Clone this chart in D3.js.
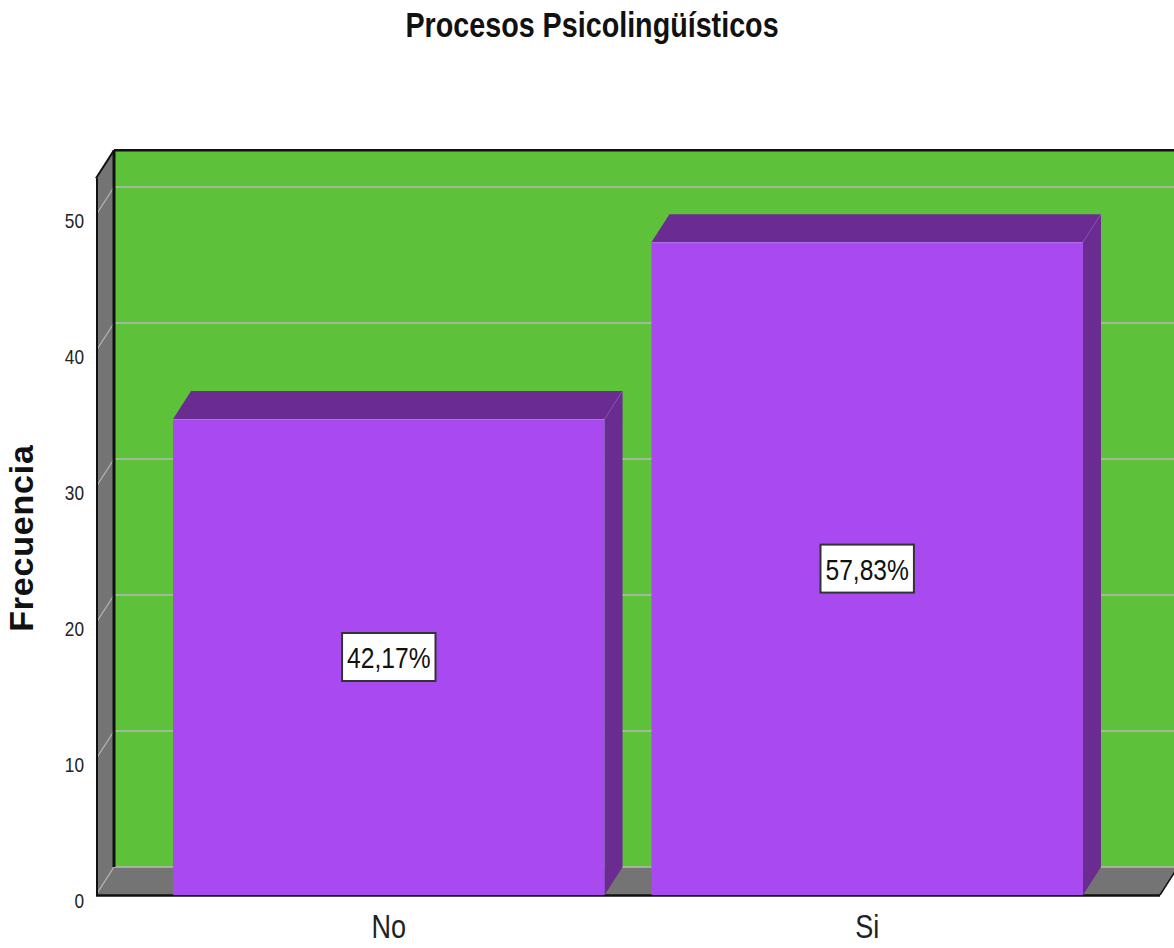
<!DOCTYPE html>
<html><head><meta charset="utf-8">
<script src="https://cdn.jsdelivr.net/npm/d3@7"></script>
<style>body{margin:0;background:#fff}svg{display:block}</style>
</head><body>
<svg id="c" width="1174" height="948"></svg>
<script>
const categories = ["No", "Si"];
const values = [35, 48];
const yTicks = [0, 10, 20, 30, 40, 50];
const title = "Procesos Psicolingüísticos";
const yTitle = "Frecuencia";

const W = 1174, H = 948;
const svg = d3.select("#c");
const font = "'Liberation Sans',Arial,sans-serif";
const SX = 0.82; // horizontal compression to mimic a narrow face

function ntext(parent, tx, ty, size, str, opts = {}) {
  return parent.append("text")
    .attr("transform", `translate(${tx},${ty}) scale(${SX},1)`)
    .attr("text-anchor", opts.anchor || "middle")
    .attr("font-family", font)
    .attr("font-weight", opts.weight || "normal")
    .attr("font-size", size)
    .attr("fill", opts.fill || "#222")
    .text(str);
}

const DX = 18, DY = -28;
const x0 = 96, x1 = 1160;
const y = d3.scaleLinear().domain([0, 50]).range([895, 215]);
const yTop = 52.7;
const x = d3.scaleBand().domain(categories).range([x0, x1]).paddingInner(0.098).paddingOuter(0.161);

const green = "#5dc23a", gray = "#747474", purple = "#a84af0", dpurple = "#6a2c91", grid = "#b8b8b8";
const total = d3.sum(values);

// back wall
svg.append("rect").attr("x", x0 + DX).attr("y", y(yTop) + DY)
  .attr("width", W - (x0 + DX) + 10).attr("height", y(0) - y(yTop)).attr("fill", green);
// left wall
svg.append("path").attr("d", `M${x0},${y(yTop)} L${x0+DX},${y(yTop)+DY} L${x0+DX},${y(0)+DY} L${x0},${y(0)} Z`).attr("fill", gray);
// floor
svg.append("path").attr("d", `M${x0},${y(0)} L${x0+DX},${y(0)+DY} L${x1+DX},${y(0)+DY} L${x1},${y(0)} Z`).attr("fill", gray);

// gridlines
yTicks.forEach(t => {
  svg.append("line").attr("x1", x0 + DX).attr("x2", W).attr("y1", y(t) + DY).attr("y2", y(t) + DY)
    .attr("stroke", grid).attr("stroke-width", 1.5);
  svg.append("line").attr("x1", x0).attr("x2", x0 + DX).attr("y1", y(t)).attr("y2", y(t) + DY)
    .attr("stroke", grid).attr("stroke-width", 1.2);
});

// wall edges
svg.append("line").attr("x1", x0 + DX).attr("x2", W).attr("y1", y(yTop) + DY).attr("y2", y(yTop) + DY)
  .attr("stroke", "#111").attr("stroke-width", 2.5);
svg.append("line").attr("x1", x0 + DX).attr("x2", x0 + DX).attr("y1", y(yTop) + DY).attr("y2", y(0) + DY)
  .attr("stroke", "#111").attr("stroke-width", 3);
svg.append("line").attr("x1", x0).attr("x2", x0 + DX).attr("y1", y(yTop)).attr("y2", y(yTop) + DY)
  .attr("stroke", "#111").attr("stroke-width", 2);
svg.append("line").attr("x1", x0 + 1).attr("x2", x0 + 1).attr("y1", y(yTop)).attr("y2", y(0))
  .attr("stroke", "#111").attr("stroke-width", 2);
svg.append("line").attr("x1", x0).attr("x2", x1).attr("y1", y(0) + 0.5).attr("y2", y(0) + 0.5)
  .attr("stroke", "#111").attr("stroke-width", 2.5);
svg.append("line").attr("x1", x1).attr("x2", x1 + DX).attr("y1", y(0)).attr("y2", y(0) + DY)
  .attr("stroke", "#111").attr("stroke-width", 1.5);

// bars
const bw = x.bandwidth();
const g = svg.append("g");
categories.forEach((c, i) => {
  const v = values[i], bx = x(c), by = y(v);
  g.append("path").attr("d", `M${bx+bw},${by} L${bx+bw+DX},${by+DY} L${bx+bw+DX},${y(0)+DY} L${bx+bw},${y(0)} Z`).attr("fill", dpurple);
  g.append("path").attr("d", `M${bx},${by} L${bx+DX},${by+DY} L${bx+bw+DX},${by+DY} L${bx+bw},${by} Z`).attr("fill", dpurple);
  g.append("rect").attr("x", bx).attr("y", by).attr("width", bw).attr("height", y(0) - by).attr("fill", purple);
  g.append("line").attr("x1", bx).attr("x2", bx + bw).attr("y1", by + 0.5).attr("y2", by + 0.5).attr("stroke", "#b86cf2").attr("stroke-width", 1);
  g.append("line").attr("x1", bx + bw).attr("x2", bx + bw + DX).attr("y1", by).attr("y2", by + DY).attr("stroke", "#8a4cc0").attr("stroke-width", 1);

  // label box
  const cx = bx + bw / 2, cy = (by + y(0)) / 2;
  const pct = d3.format(".2f")(v / total * 100).replace(".", ",") + "%";
  const lg = g.append("g");
  const rect = lg.append("rect").attr("fill", "#fff").attr("stroke", "#333").attr("stroke-width", 2);
  const txt = ntext(lg, cx, cy + 11, 30, pct, { fill: "#111" });
  const bb = txt.node().getBBox();
  const w = bb.width * SX + 10, h = 48;
  rect.attr("x", cx - w / 2).attr("y", cy - h / 2).attr("width", w).attr("height", h);
});

// y tick labels
yTicks.forEach(t => {
  ntext(svg, 84, y(t) + 13, 21, t, { anchor: "end" });
});

// x labels
categories.forEach(c => {
  ntext(svg, x(c) + bw / 2, 938, 33, c);
});

// y title
svg.append("text").attr("transform", `translate(33,${538}) rotate(-90)`).attr("text-anchor", "middle")
  .attr("font-family", font).attr("font-weight", "bold").attr("font-size", 34)
  .attr("letter-spacing", 0.8).attr("fill", "#111").text(yTitle);

// title
ntext(svg, 592, 37, 35, title, { weight: "bold", fill: "#111" });
</script>
</body></html>
